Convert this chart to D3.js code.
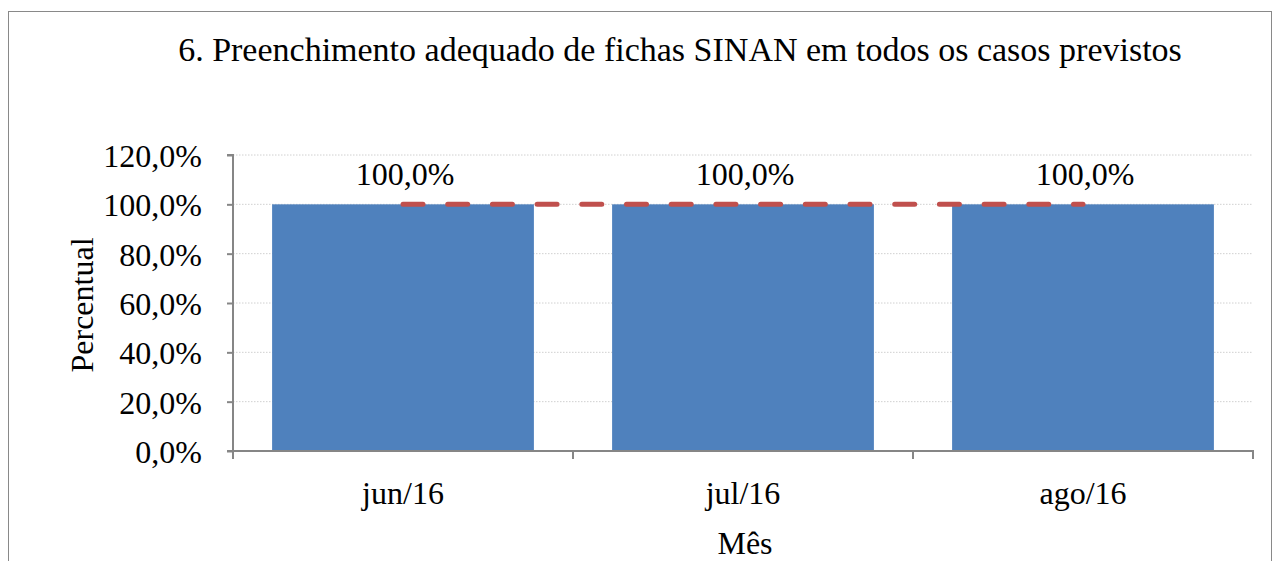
<!DOCTYPE html>
<html><head><meta charset="utf-8">
<script src="https://cdn.jsdelivr.net/npm/d3@7"></script>
<style>body{margin:0;background:#fff}svg{display:block}text{font-family:"Liberation Serif","Times New Roman",serif;fill:#000}</style>
</head><body>
<script>
const categories = ["jun/16","jul/16","ago/16"];
const values = [100,100,100];
const targetValues = [100,100,100];
const valueLabels = ["100,0%","100,0%","100,0%"];
const yTicks = [0,20,40,60,80,100,120];
const yTickLabels = ["0,0%","20,0%","40,0%","60,0%","80,0%","100,0%","120,0%"];
const title = "6. Preenchimento adequado de fichas SINAN em todos os casos previstos";
const xTitle = "Mês", yTitle = "Percentual";

const W=1280,H=561;
const svg=d3.select("body").append("svg").attr("width",W).attr("height",H);
svg.append("rect").attr("x",8.5).attr("y",11.5).attr("width",1263).attr("height",600)
  .attr("fill","#fff").attr("stroke","#898989").attr("stroke-width",1);

const L=233,R=1253,T=155,B=451;
const x=d3.scaleBand().domain(categories).range([L,R]).paddingInner(0.23).paddingOuter(0.115);
const xb=d3.scaleBand().domain(categories).range([L,R]);
const y=d3.scaleLinear().domain([0,120]).range([B,T]);

// gridlines
svg.append("g").selectAll("line").data(yTicks.filter(d=>d>0)).join("line")
  .attr("x1",L).attr("x2",R).attr("y1",d=>y(d)).attr("y2",d=>y(d))
  .attr("stroke","#d0d0d0").attr("stroke-width",1).attr("stroke-dasharray","1.5,1.5");

// bars
svg.append("g").selectAll("rect").data(values).join("rect")
  .attr("x",(d,i)=>x(categories[i])).attr("width",x.bandwidth())
  .attr("y",d=>y(d)).attr("height",d=>B-y(d)).attr("fill","#4F81BD");

// target line
const line=d3.line().x((d,i)=>xb(categories[i])+xb.bandwidth()/2).y(d=>y(d));
svg.append("path").datum(targetValues).attr("d",line).attr("fill","none")
  .attr("stroke","#C0504D").attr("stroke-width",5).attr("stroke-linecap","round")
  .attr("stroke-dasharray","20,24.7");

// y axis
const ya=svg.append("g").attr("transform",`translate(${L},0)`)
  .call(d3.axisLeft(y).tickValues(yTicks).tickFormat((d,i)=>yTickLabels[i]).tickSize(6).tickPadding(25));
ya.select(".domain").attr("stroke","#868686").attr("stroke-width",2).attr("d",`M-6,${T}H0V${B}H-6`);
ya.selectAll(".tick line").attr("stroke","#868686").attr("stroke-width",2);
ya.selectAll(".tick text").attr("font-size",32).attr("font-family","Liberation Serif").attr("fill","#000").attr("dy","0.36em");

// x axis
const xa=svg.append("g").attr("transform",`translate(0,${B})`)
  .call(d3.axisBottom(xb).tickSize(0).tickPadding(30));
xa.select(".domain").attr("stroke","#868686").attr("stroke-width",2).attr("d",`M${L},8V0H${R}V8`);
xa.selectAll(".tick text").attr("font-size",32).attr("font-family","Liberation Serif").attr("fill","#000").attr("dy","0.71em");
svg.append("g").selectAll("line").data(categories.slice(1)).join("line")
  .attr("x1",d=>xb(d)).attr("x2",d=>xb(d)).attr("y1",B).attr("y2",B+8)
  .attr("stroke","#868686").attr("stroke-width",2);

// value labels
svg.append("g").selectAll("text").data(values).join("text")
  .attr("x",(d,i)=>xb(categories[i])+xb.bandwidth()/2+2).attr("y",d=>y(d)-19)
  .attr("text-anchor","middle").attr("font-size",32).text((d,i)=>valueLabels[i]);

// titles
svg.append("text").attr("x",680).attr("y",61).attr("text-anchor","middle").attr("font-size",34).text(title);
svg.append("text").attr("x",745).attr("y",554).attr("text-anchor","middle").attr("font-size",32).text(xTitle);
svg.append("text").attr("transform","translate(93,305) rotate(-90)").attr("text-anchor","middle").attr("font-size",32).text(yTitle);
</script>
</body></html>
